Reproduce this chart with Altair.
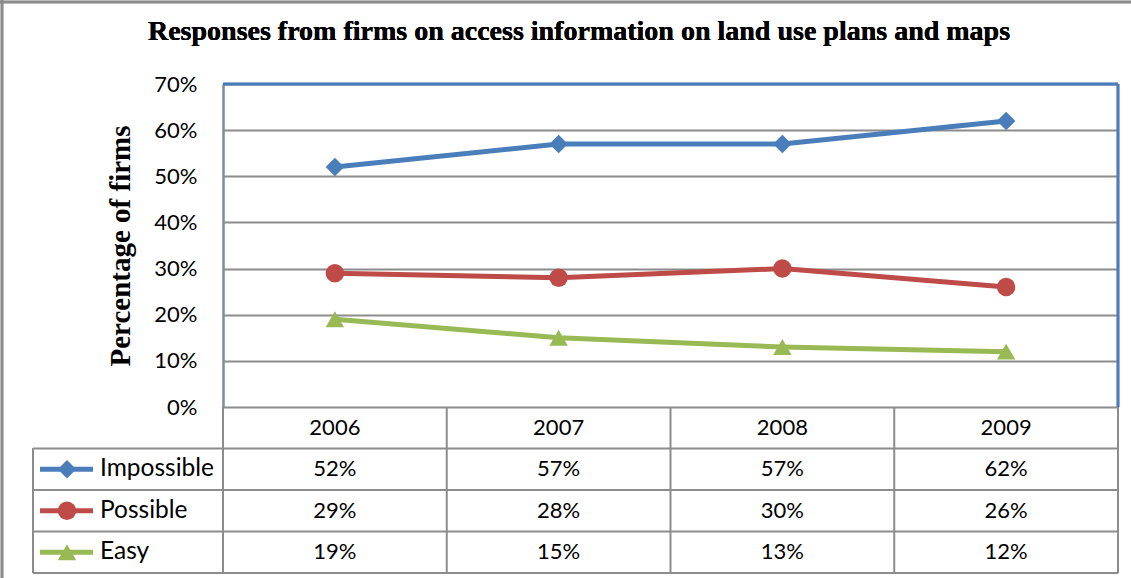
import altair as alt
import pandas as pd

years = ["2006", "2007", "2008", "2009"]
series = ["Impossible", "Possible", "Easy"]
impossible = [0.52, 0.57, 0.57, 0.62]
possible = [0.29, 0.28, 0.30, 0.26]
easy = [0.19, 0.15, 0.13, 0.12]
colors = ["#4A7EBB", "#BE4B48", "#98B954"]
shapes = ["diamond", "circle", "triangle-up"]
y_ticks = [0, 0.1, 0.2, 0.3, 0.4, 0.5, 0.6, 0.7]
title_text = "Responses from firms on access information on land use plans and maps"
y_title = "Percentage of firms"

rows = []
for s, vals in zip(series, [impossible, possible, easy]):
    for yr, v in zip(years, vals):
        rows.append({"series": s, "year": yr, "value": v, "row": s})
df = pd.DataFrame(rows)
df_years = pd.DataFrame({"year": years, "row": ["header"] * len(years)})
df_series = pd.DataFrame({"series": series, "row": series})

W, H = 895, 489
PH = 323  # plot area height
row_domain = ["header"] + series

xs = alt.Scale(type="band", domain=years, paddingInner=0, paddingOuter=0)
ys = alt.Scale(domain=[0, 0.7], range=[PH, 0], nice=False)
rs = alt.Scale(type="band", domain=row_domain, range=[PH, H], paddingInner=0, paddingOuter=0)
cs = alt.Scale(domain=series, range=colors)
ss = alt.Scale(domain=series, range=shapes)

FONT = "Lato"
FS = 22
GRID = "#8C8C8C"
MSIZE = 340
LW = 5

base = alt.Chart(df)

line = base.mark_line(strokeWidth=LW).encode(
    x=alt.X("year:N", scale=xs, axis=None, bandPosition=0.5),
    y=alt.Y("value:Q", scale=ys, axis=alt.Axis(
        values=y_ticks, format=".0%", grid=True, gridColor=GRID, gridWidth=2,
        domainColor="#7F8A99", domainWidth=2.5, ticks=False, labelPadding=26,
        labelFont=FONT, labelFontSize=FS, labelColor="black",
        title=y_title, titleFont="Liberation Serif", titleFontSize=29,
        titleFontWeight="bold", titleColor="black", titleX=-103, titleY=PH / 2,
        titleAlign="center", titleBaseline="middle", titleAngle=-90)),
    color=alt.Color("series:N", scale=cs, legend=None),
    detail="series:N",
)
pts = base.mark_point(filled=True, opacity=1, size=MSIZE).encode(
    x=alt.X("year:N", scale=xs, axis=None, bandPosition=0.5),
    y=alt.Y("value:Q", scale=ys, axis=None),
    color=alt.Color("series:N", scale=cs, legend=None),
    shape=alt.Shape("series:N", scale=ss, legend=None),
)

# table
vlines = alt.Chart(df_years).mark_rule(color=GRID, strokeWidth=2).encode(
    x=alt.X("year:N", scale=xs, axis=None, bandPosition=0),
    y=alt.value(PH), y2=alt.value(H),
)
hlines = alt.Chart(df_series).mark_rule(color=GRID, strokeWidth=2).encode(
    y=alt.Y("row:N", scale=rs, axis=None, bandPosition=0),
    x=alt.value(-190), x2=alt.value(W),
)
frame = alt.Chart(df_series).mark_rule(color=GRID, strokeWidth=2).encode(
    x=alt.value(-190), x2=alt.value(W), y=alt.value(H),
)
left_col = alt.Chart(df_series).mark_rule(color=GRID, strokeWidth=2).encode(
    x=alt.value(-190), y=alt.value(PH + (H - PH) / 4), y2=alt.value(H),
)
right_col = alt.Chart(df_series).mark_rule(color=GRID, strokeWidth=2).encode(
    x=alt.value(W), y=alt.value(PH), y2=alt.value(H),
)
year_text = alt.Chart(df_years).mark_text(font=FONT, fontSize=FS, color="black", baseline="middle").encode(
    x=alt.X("year:N", scale=xs, axis=None, bandPosition=0.5),
    y=alt.Y("row:N", scale=rs, axis=None, bandPosition=0.5),
    text="year:N",
)
val_text = base.mark_text(font=FONT, fontSize=FS, color="black", baseline="middle").encode(
    x=alt.X("year:N", scale=xs, axis=None, bandPosition=0.5),
    y=alt.Y("row:N", scale=rs, axis=None, bandPosition=0.5),
    text=alt.Text("value:Q", format=".0%"),
)
leg_line = alt.Chart(df_series).mark_rule(strokeWidth=LW).encode(
    x=alt.value(-183), x2=alt.value(-130),
    y=alt.Y("row:N", scale=rs, axis=None, bandPosition=0.5),
    color=alt.Color("series:N", scale=cs, legend=None),
)
leg_pt = alt.Chart(df_series).mark_point(filled=True, opacity=1, size=MSIZE).encode(
    x=alt.value(-156),
    y=alt.Y("row:N", scale=rs, axis=None, bandPosition=0.5),
    color=alt.Color("series:N", scale=cs, legend=None),
    shape=alt.Shape("series:N", scale=ss, legend=None),
)
leg_text = alt.Chart(df_series).mark_text(font=FONT, fontSize=24.5, color="black", align="left", baseline="middle").encode(
    x=alt.value(-123),
    y=alt.Y("row:N", scale=rs, axis=None, bandPosition=0.5),
    text="series:N",
)

# plot-area border (blue, top & right) and outer frame
border_top = alt.Chart(df_series).mark_rule(color="#4A7EBB", strokeWidth=2.5).encode(
    x=alt.value(0), x2=alt.value(W), y=alt.value(0))
border_right = alt.Chart(df_series).mark_rule(color="#4A7EBB", strokeWidth=2.5).encode(
    x=alt.value(W), y=alt.value(0), y2=alt.value(PH))
outer_top = alt.Chart(df_series).mark_rule(color="#8C8C8C", strokeWidth=2.5).encode(
    x=alt.value(-223), x2=alt.value(908), y=alt.value(-82))
outer_left = alt.Chart(df_series).mark_rule(color="#8C8C8C", strokeWidth=2.5).encode(
    x=alt.value(-221), y=alt.value(-84), y2=alt.value(H + 5))
title = alt.Chart(df_series).mark_text(font="Liberation Serif", fontSize=28, fontWeight="bold",
                                       color="black", baseline="middle").encode(
    x=alt.value(356), y=alt.value(-52), text=alt.value(title_text))

chart = alt.layer(
    line, vlines, hlines, frame, left_col, right_col, year_text, val_text,
    leg_line, leg_pt, leg_text, pts, border_top, border_right, outer_top, outer_left, title,
).resolve_scale(y="independent").properties(
    width=W, height=H,
    autosize=alt.AutoSizeParams(type="none"),
    padding={"left": 223, "top": 84, "right": 13, "bottom": 5},
).configure_view(stroke=None).configure(background="white")

chart.save("out.html", embed_options={"renderer": "svg", "actions": False})
